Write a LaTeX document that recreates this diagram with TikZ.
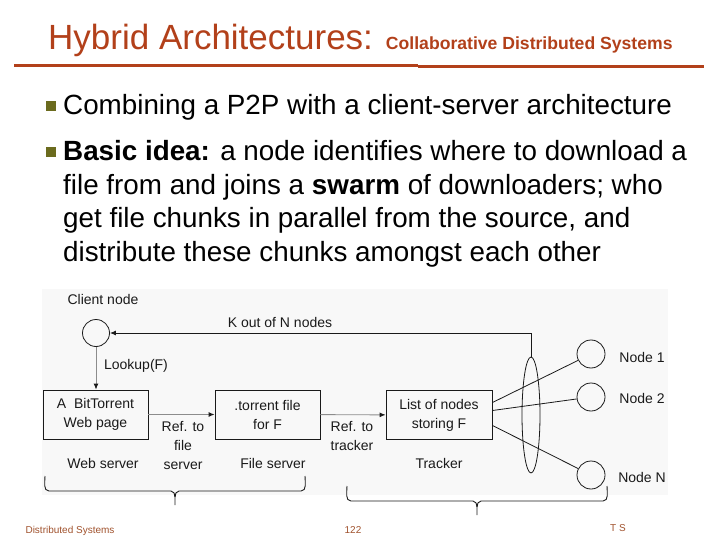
\documentclass[tikz,border=0pt]{standalone}
\usepackage{fontspec}
\setmainfont{Liberation Sans}
\usetikzlibrary{shapes.geometric, arrows.meta, positioning, calc}
\definecolor{TitleColor}{HTML}{B2401A}
\definecolor{BulletColor}{HTML}{6B6B1E}
\definecolor{FooterColor}{HTML}{A0522D}
\definecolor{LineDark}{HTML}{1A1A1A}
\definecolor{LineGray}{HTML}{8C8C8C}
\definecolor{PanelColor}{HTML}{F8F8F8}

\begin{document}
\begin{tikzpicture}[x=1pt, y=-1pt,
        box/.style={rectangle, draw=LineDark, line width=0.9pt, minimum width=105pt, minimum height=49pt, inner sep=2pt, align=center, font=\fontsize{14}{19}\selectfont, text=LineDark},
        peer/.style={circle, draw=LineDark, line width=0.8pt, minimum size=28pt, inner sep=0pt},
        lbl/.style={inner sep=0pt, align=center, font=\fontsize{14}{19}\selectfont, text=LineDark},
        arr/.style={-{Latex[length=6pt, width=5pt]}, line width=0.9pt, LineDark},
        grayarr/.style={-{Latex[length=6pt, width=5pt, color=LineDark]}, line width=0.9pt, LineGray},
        link/.style={line width=0.8pt, LineDark},
        bracket/.style={line width=0.9pt, LineDark},
        foot/.style={inner sep=0pt, font=\fontsize{10}{12}\selectfont, text=FooterColor}
      ]
        \useasboundingbox (0,0) rectangle (720,540);
        \fill[PanelColor] (42,289) rectangle (668,495);

        % title and rule
        \node[anchor=base west, inner sep=0pt, text=TitleColor] (title) at (48,50)
          {{\fontsize{35}{38}\selectfont Hybrid Architectures: }{\fontsize{17.6}{20}\selectfont\bfseries Collaborative Distributed Systems}};
        \draw[TitleColor, line width=3.5pt] (14,65.5) -- (418,65.5);
        \draw[TitleColor, line width=3pt] (418,67) -- (704,67);

        % bullets
        \fill[BulletColor] (46,101) rectangle (56,111);
        \fill[BulletColor] (46,147) rectangle (56,157);
        \node[anchor=base west, inner sep=0pt, font=\fontsize{27.8}{33.5}\selectfont] (pointa) at (63,115)
          {Combining a P2P with a client-server architecture};
        \node[anchor=base west, inner sep=0pt, align=left, font=\fontsize{27.8}{33.5}\selectfont] (pointb) at (63,261.5)
          {\textbf{Basic idea:} a node identifies where to download a\\
           file from and joins a \textbf{swarm} of downloaders; who\\
           get file chunks in parallel from the source, and\\
           distribute these chunks amongst each other};

        % diagram
        \node[peer, minimum size=27pt] (client) at (96,333) {};
        \node[lbl] (clientlbl) at (103,299) {Client node};
        \node[box] (web) at (95.5,414.5) {A\ \ BitTorrent\\Web page};
        \node[box] (torrent) at (267.5,414.5) {.torrent file\\for F};
        \node[box, minimum width=106pt] (list) at (439,415) {List of nodes\\storing F};
        \node[lbl] (weblbl) at (103,463) {Web server};
        \node[lbl] (filelbl) at (273,463) {File server};
        \node[lbl] (trackerlbl) at (439,463) {Tracker};
        \node[lbl] (reffile) at (183,445.5) {Ref. to\\file\\server};
        \node[lbl] (reftracker) at (352,436) {Ref. to\\tracker};
        \node[lbl] (kofn) at (280,322) {K out of N nodes};
        \node[lbl] (lookup) at (136,366) {Lookup(F)};
        \node[ellipse, draw=LineDark, line width=0.8pt, minimum width=18pt, minimum height=116pt, inner sep=0pt] (swarm) at (531,415) {};
        \node[peer] (node1) at (591,354) {};
        \node[peer] (node2) at (591,397) {};
        \node[peer] (nodeN) at (591,475) {};
        \node[lbl] (node1lbl) at (642,357) {Node 1};
        \node[lbl] (node2lbl) at (642,398) {Node 2};
        \node[lbl] (nodeNlbl) at (642,477) {Node N};

        \draw[arr] (swarm.north) |- (client.east);
        \draw[grayarr] (client.south) -- (client.south |- web.north);
        \draw[grayarr] (web) -- (torrent);
        \draw[grayarr] (torrent) -- (list);
        \draw[link] ($(list.north east)!0.25!(list.south east)$) -- (node1);
        \draw[link] ($(list.north east)!0.41!(list.south east)$) -- (node2);
        \draw[link] ($(list.north east)!0.71!(list.south east)$) -- (nodeN);

        % braces under the servers
        \foreach \xl/\xm/\xr/\yb in {45/175/305/491, 347/477/607/501} {
          \draw[bracket] (\xl,\yb-15) to[out=-90, in=180] (\xl+4,\yb) -- (\xm-4,\yb) to[out=0, in=90] (\xm,\yb+6) -- (\xm,\yb+14);
          \draw[bracket] (\xm,\yb+6) to[out=90, in=180] (\xm+4,\yb) -- (\xr-4,\yb) to[out=0, in=-90] (\xr,\yb-15);
        }

        % footer
        \node[foot] (course) at (70,531) {Distributed Systems};
        \node[foot] (page) at (353,530) {122};
        \node[foot] (initials) at (618,528) {T S};
      \end{tikzpicture}
\end{document}
